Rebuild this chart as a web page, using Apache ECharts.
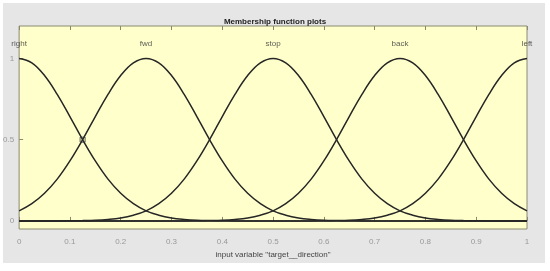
<!DOCTYPE html>
<html><head><meta charset="utf-8">
<script src="https://cdn.jsdelivr.net/npm/echarts@6/dist/echarts.min.js"></script>
<style>html,body{margin:0;padding:0;background:#fff}#c{width:550px;height:271px}</style>
</head><body><div id="c"></div>
<script>
const xs = [0,0.025,0.05,0.075,0.1,0.125,0.15,0.175,0.2,0.225,0.25,0.275,0.3,0.325,0.35,0.375,0.4,0.425,0.45,0.475,0.5,0.525,0.55,0.575,0.6,0.625,0.65,0.675,0.7,0.725,0.75,0.775,0.8,0.825,0.85,0.875,0.9,0.925,0.95,0.975,1];
const right = [1,.973,.895,.779,.642,.5,.369,.257,.170,.106,.062,.035,.018,.009,.004,.002,.001,0,0,0,0,0,0,0,0,0,0,0,0,0,0,0,0,0,0,0,0,0,0,0,0];
const fwd = [.062,.106,.170,.257,.369,.5,.642,.779,.895,.973,1,.973,.895,.779,.642,.5,.369,.257,.170,.106,.062,.035,.018,.009,.004,.002,.001,0,0,0,0,0,0,0,0,0,0,0,0,0,0];
const stop = [0,0,0,0,.001,.002,.004,.009,.018,.035,.062,.106,.170,.257,.369,.5,.642,.779,.895,.973,1,.973,.895,.779,.642,.5,.369,.257,.170,.106,.062,.035,.018,.009,.004,.002,.001,0,0,0,0];
const back = [0,0,0,0,0,0,0,0,0,0,0,0,0,0,.001,.002,.004,.009,.018,.035,.062,.106,.170,.257,.369,.5,.642,.779,.895,.973,1,.973,.895,.779,.642,.5,.369,.257,.170,.106,.062];
const left = [0,0,0,0,0,0,0,0,0,0,0,0,0,0,0,0,0,0,0,0,0,0,0,0,.001,.002,.004,.009,.018,.035,.062,.106,.170,.257,.369,.5,.642,.779,.895,.973,1];
const mfNames = ['right','fwd','stop','back','left'];
const mfCenters = [0,0.25,0.5,0.75,1];
const mfLabelY = 1.09;
const xTicks = [0,0.1,0.2,0.3,0.4,0.5,0.6,0.7,0.8,0.9,1];
const yTicks = [0,0.5,1];
const marker = [[0.125,0.5]];
const title = 'Membership function plots';
const xName = 'input variable "target__direction"';

const chart = echarts.init(document.getElementById('c'), null, {renderer:'canvas'});
const font = 'Liberation Sans, Arial, sans-serif';
const allSeries = [right,fwd,stop,back,left].map((arr,i)=>({
  type:'line', name: mfNames[i], data: xs.map((x,j)=>[x,arr[j]]),
  smooth:0.4, showSymbol:false, symbol:'none',
  lineStyle:{color:'#262626', width:1.5}, z:3
}));
allSeries.push({
  type:'scatter', data: mfCenters.map((c,i)=>[c,mfLabelY,mfNames[i]]),
  symbolSize:0, label:{show:true, position:'inside', formatter:p=>p.data[2], color:'#333', fontSize:8, fontFamily:font}, z:4
});
allSeries.push({
  type:'scatter', data: marker, symbol:'rect', symbolSize:5,
  itemStyle:{color:'rgba(0,0,0,0)', borderColor:'#333', borderWidth:1}, z:5
});
chart.setOption({
  animation:false,
  backgroundColor:'#fff',
  graphic:[{type:'rect', shape:{x:3,y:3,width:542,height:260}, style:{fill:'#e6e6e6'}, z:-10}],
  title:{text:title, left:'center', top:13, textStyle:{fontSize:8, fontWeight:'bold', color:'#222', fontFamily:font}},
  grid:{left:19, right:23, top:26, bottom:42, show:true, backgroundColor:'#ffffcc', borderColor:'#8a8a70', borderWidth:1},
  xAxis:[{
    type:'value', min:0, max:1, position:'bottom',
    name:xName, nameLocation:'middle', nameGap:21,
    nameTextStyle:{fontSize:8, color:'#444', fontFamily:font},
    axisLine:{show:false}, splitLine:{show:false},
    axisTick:{inside:true, length:4, lineStyle:{color:'#8a8a70'}, customValues:xTicks},
    axisLabel:{fontSize:8, color:'#999', fontFamily:font, margin:9, customValues:xTicks, formatter:v=>String(v)}
  },{
    type:'value', min:0, max:1, position:'top',
    axisLine:{show:false}, splitLine:{show:false},
    axisTick:{inside:true, length:4, lineStyle:{color:'#8a8a70'}, customValues:xTicks},
    axisLabel:{show:false}
  }],
  yAxis:{
    type:'value', min:-0.05, max:1.2,
    axisLine:{show:false}, splitLine:{show:false},
    axisTick:{inside:true, length:4, lineStyle:{color:'#8a8a70'}, customValues:yTicks},
    axisLabel:{fontSize:8, color:'#999', fontFamily:font, margin:5, customValues:yTicks, formatter:v=>String(v)}
  },
  series:allSeries
});
</script></body></html>
